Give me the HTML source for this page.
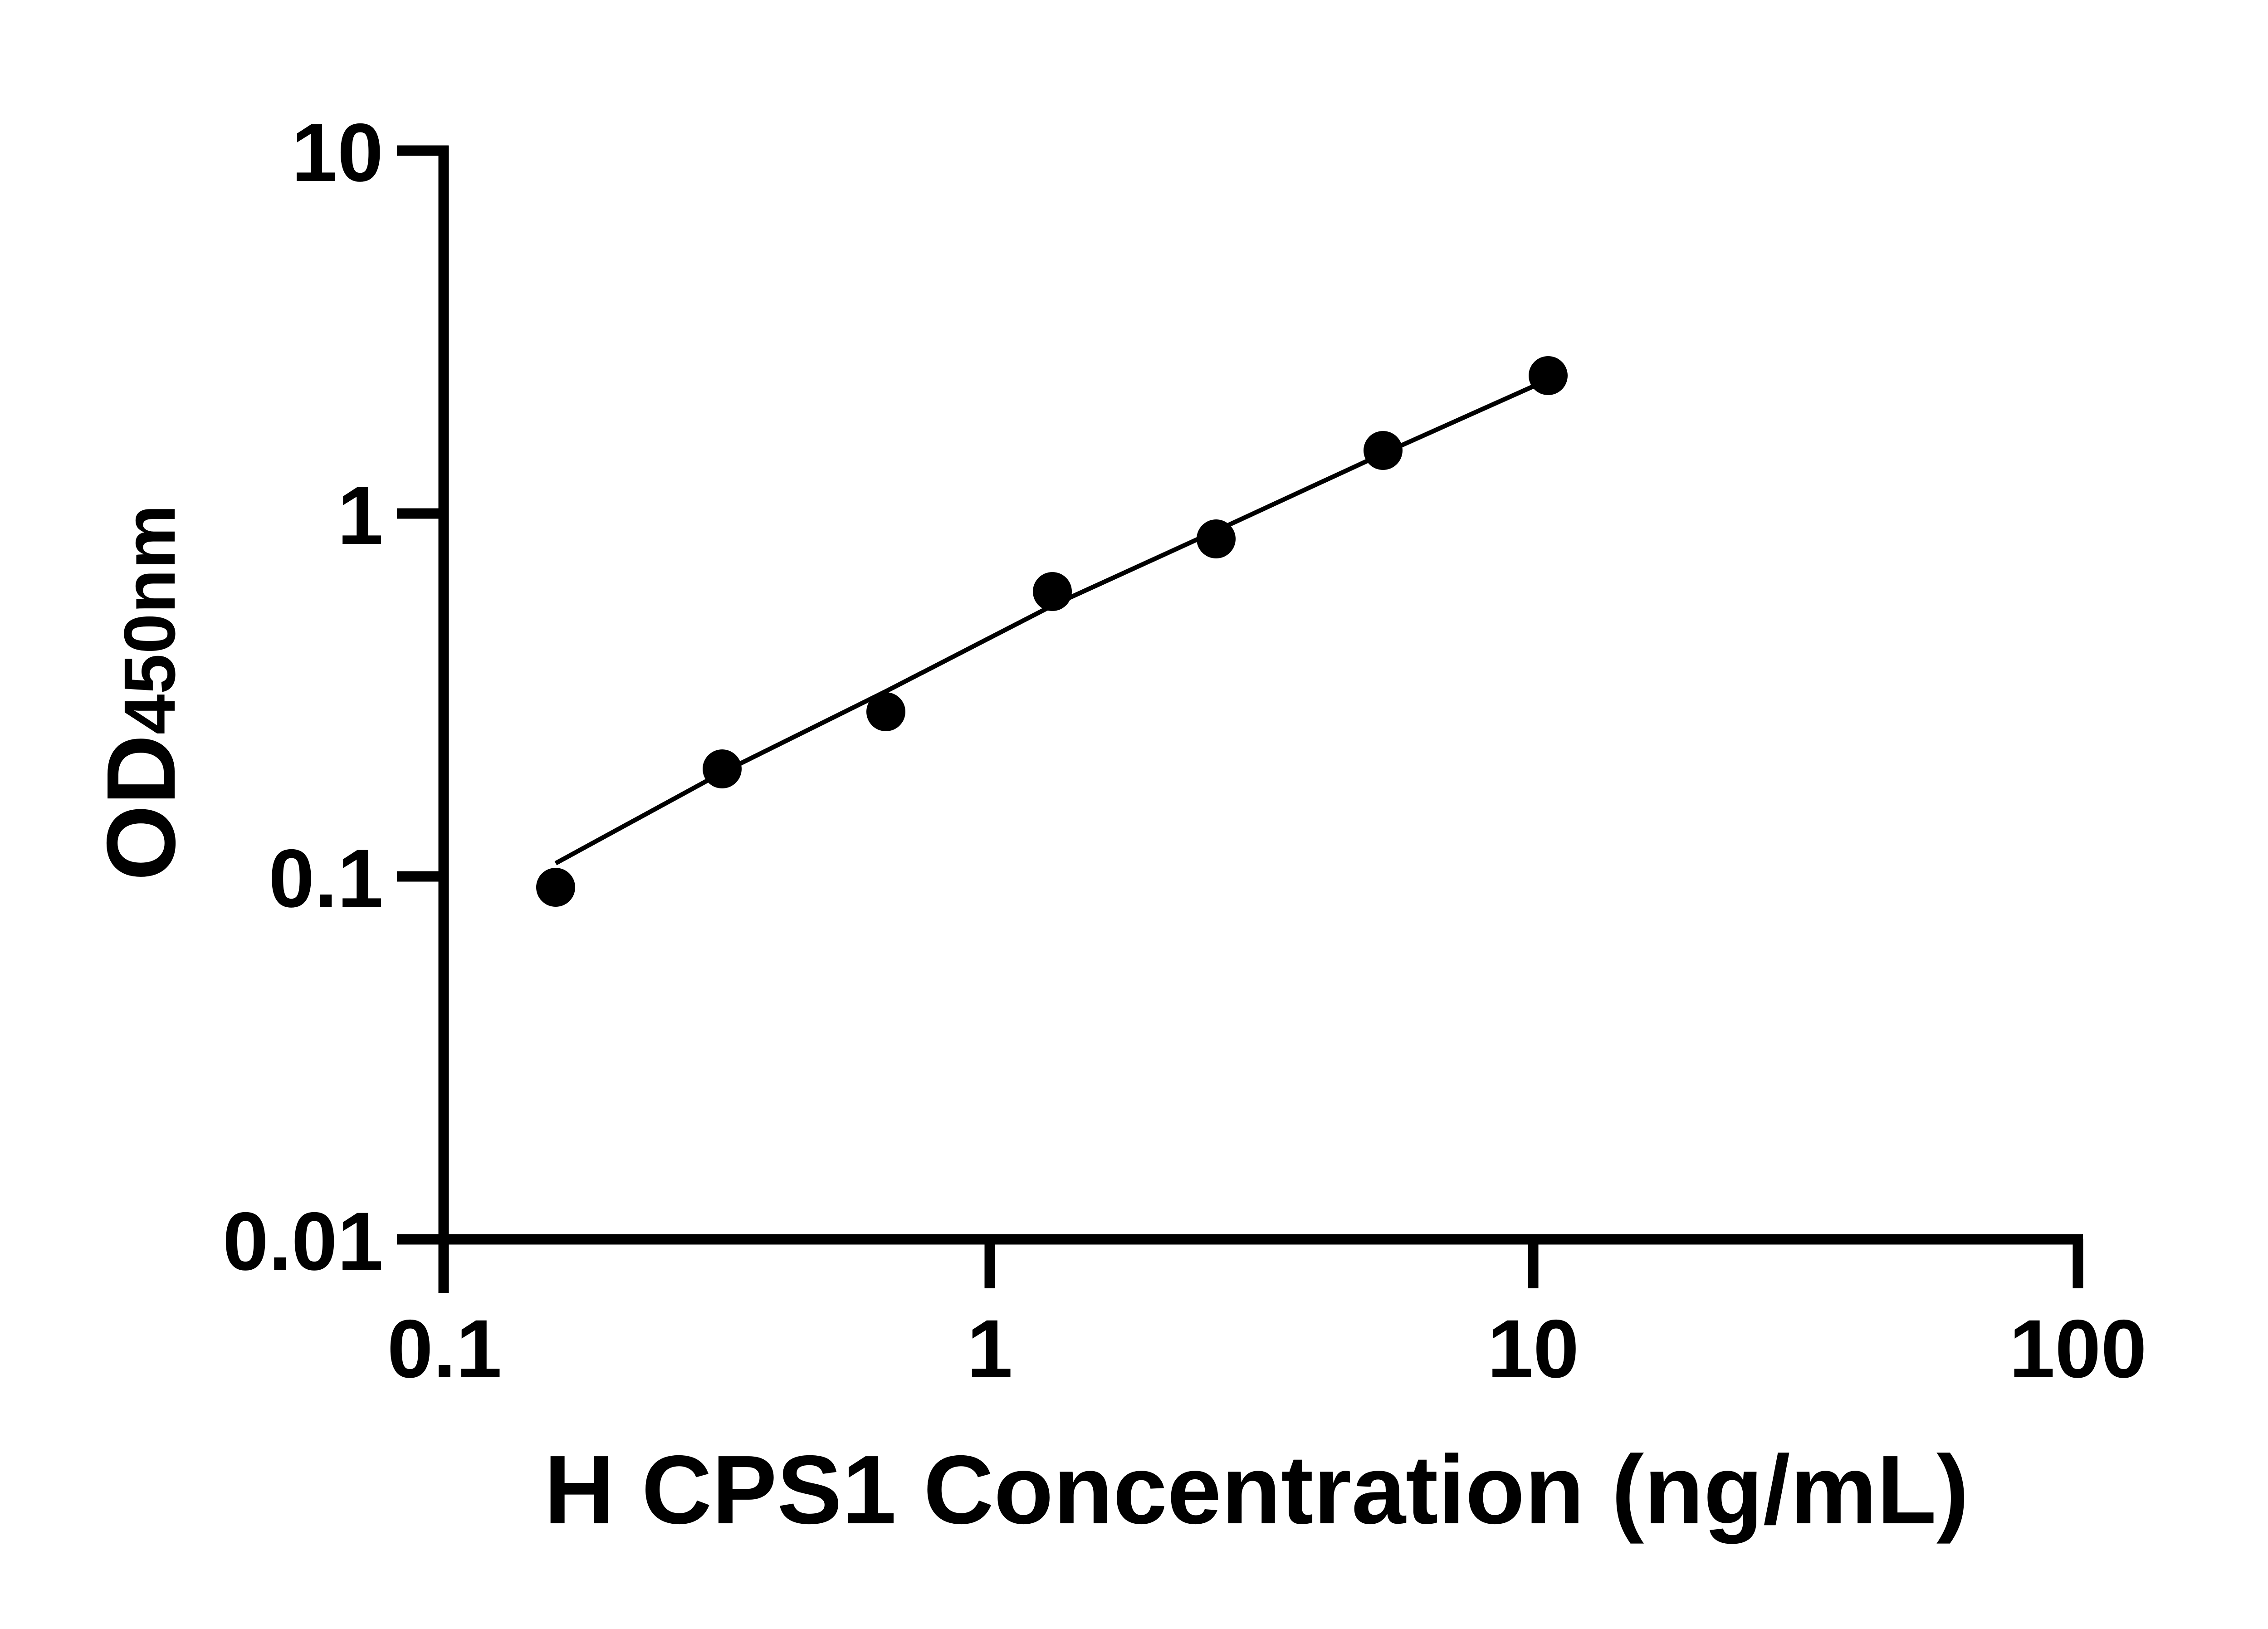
<!DOCTYPE html>
<html><head><style>html,body{margin:0;padding:0;background:#fff;}</style></head>
<body>
<svg width="5138" height="3591" viewBox="0 0 5138 3591" xmlns="http://www.w3.org/2000/svg" style="display:block">
<rect width="5138" height="3591" fill="#fff"/>
<g stroke="#000" stroke-width="23" fill="none" stroke-linecap="butt">
<line x1="978" y1="321" x2="978" y2="2850"/>
<line x1="875" y1="332" x2="989" y2="332"/>
<line x1="875" y1="1132" x2="978" y2="1132"/>
<line x1="875" y1="1932" x2="978" y2="1932"/>
<line x1="875" y1="2732" x2="4592" y2="2732"/>
<line x1="2182" y1="2732" x2="2182" y2="2840"/>
<line x1="3380" y1="2732" x2="3380" y2="2840"/>
<line x1="4581" y1="2732" x2="4581" y2="2840"/>
</g>
<g font-family="Liberation Sans, sans-serif" font-weight="bold" font-size="182" fill="#000">
<text x="845" y="399" text-anchor="end">10</text>
<text x="845" y="1199" text-anchor="end">1</text>
<text x="845" y="1999" text-anchor="end">0.1</text>
<text x="845" y="2799" text-anchor="end">0.01</text>
<text x="980" y="3036" text-anchor="middle">0.1</text>
<text x="2182" y="3036" text-anchor="middle">1</text>
<text x="3380" y="3036" text-anchor="middle">10</text>
<text x="4581" y="3036" text-anchor="middle">100</text>
</g>
<text x="2770" y="3358" text-anchor="middle" font-family="Liberation Sans, sans-serif" font-weight="bold" font-size="215" fill="#000">H CPS1 Concentration (ng/mL)</text>
<text transform="translate(385,1527) rotate(-90)" text-anchor="middle" font-family="Liberation Sans, sans-serif" font-weight="bold" fill="#000"><tspan font-size="215">OD</tspan><tspan font-size="160">450nm</tspan></text>
<polyline points="1225,1903 1592,1703 1953,1524 2320,1335 2681,1170 3049,1000 3413,837" stroke="#000" stroke-width="10" fill="none"/>
<g fill="#000">
<circle cx="1225" cy="1956" r="43"/>
<circle cx="1592" cy="1695" r="43"/>
<circle cx="1953" cy="1569" r="43"/>
<circle cx="2320" cy="1304" r="43"/>
<circle cx="2681" cy="1188" r="43"/>
<circle cx="3049" cy="993" r="43"/>
<circle cx="3413" cy="828" r="43"/>
</g>
</svg>
</body></html>
